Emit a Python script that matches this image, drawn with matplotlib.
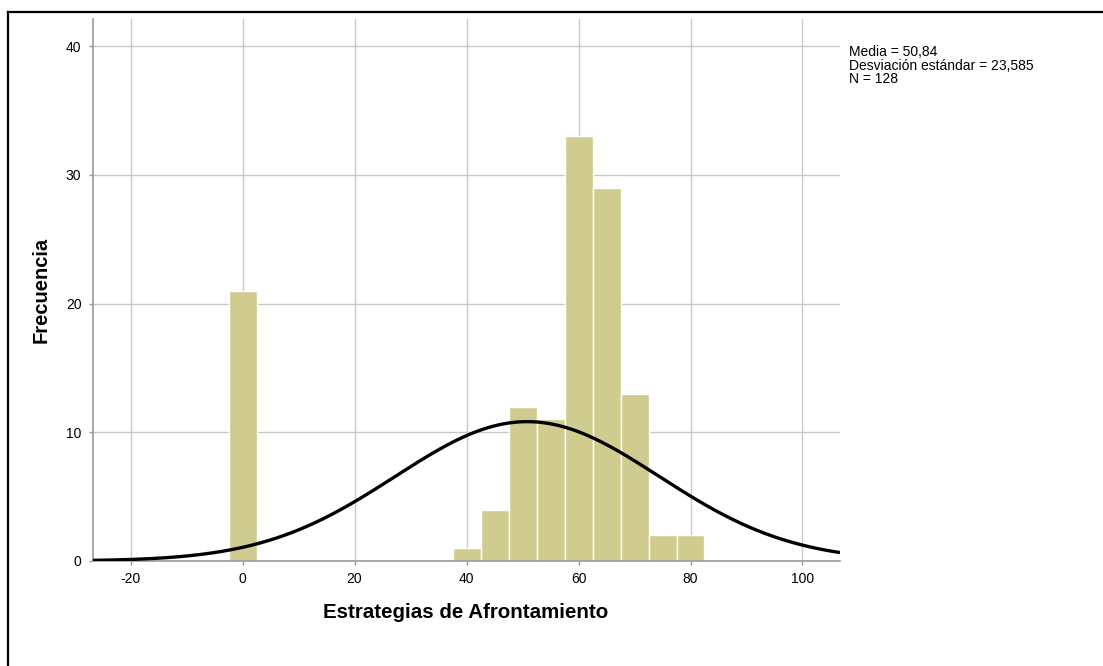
import numpy as np
import matplotlib
matplotlib.use("Agg")
import matplotlib.pyplot as plt
from matplotlib.lines import Line2D

plt.rcParams['font.family'] = ['Liberation Sans', 'DejaVu Sans']
plt.rcParams['axes.unicode_minus'] = False

# Data
bin_centers = [0, 40, 45, 50, 55, 60, 65, 70, 75, 80]
counts = [21, 1, 4, 12, 11, 33, 29, 13, 2, 2]
bin_width = 5
media = 50.84
desv = 23.585
n_total = 128
x_ticks = [-20, 0, 20, 40, 60, 80, 100]
y_ticks = [0, 10, 20, 30, 40]
xlabel = "Estrategias de Afrontamiento"
ylabel = "Frecuencia"
stats_text = "Media = 50,84\nDesviación estándar = 23,585\nN = 128"

W, H = 1103, 666
fig = plt.figure(figsize=(W / 100, H / 100), dpi=100)
ax = fig.add_axes([92.5 / W, 1 - 561 / H, (840 - 92.5) / W, (561 - 19) / H])

xmin, xmax = -26.8, 106.7
ax.set_xlim(xmin, xmax)
ax.set_ylim(0, 42.1)

ax.grid(True, color='#c8c8c8', linewidth=1.0)
ax.set_axisbelow(True)

ax.bar(bin_centers, counts, width=bin_width, color='#d0cb8f',
       edgecolor='white', linewidth=1.0, zorder=2)

xs = np.linspace(xmin, xmax, 400)
ys = n_total * bin_width / (desv * np.sqrt(2 * np.pi)) * np.exp(-0.5 * ((xs - media) / desv) ** 2)
ax.plot(xs, ys, color='black', linewidth=2.4, zorder=3, solid_capstyle='butt')

ax.set_xticks(x_ticks)
ax.set_yticks(y_ticks)
ax.tick_params(axis='both', labelsize=10, color='#999999', length=3, width=1)
ax.tick_params(axis='x', pad=5)
ax.tick_params(axis='y', pad=5)
for s in ['top', 'right']:
    ax.spines[s].set_visible(False)
for s in ['left', 'bottom']:
    ax.spines[s].set_color('#999999')
    ax.spines[s].set_linewidth(1.2)

fig.text(466 / W, 1 - 612 / H, xlabel, ha='center', va='center',
         fontsize=14.8, fontweight='bold')
fig.text(41 / W, 1 - 290 / H, ylabel, ha='center', va='center',
         fontsize=14.5, fontweight='bold', rotation=90)
fig.text(849 / W, 1 - 45 / H, stats_text, ha='left', va='top',
         fontsize=10, linespacing=0.97)

# outer frame (top and left edges)
fig.add_artist(Line2D([7.5 / W, 1.0], [1 - 11.5 / H, 1 - 11.5 / H], color='black', linewidth=1.6))
fig.add_artist(Line2D([7.5 / W, 7.5 / W], [0, 1 - 11.5 / H], color='black', linewidth=1.6))

fig.savefig("out.png", dpi=100)
